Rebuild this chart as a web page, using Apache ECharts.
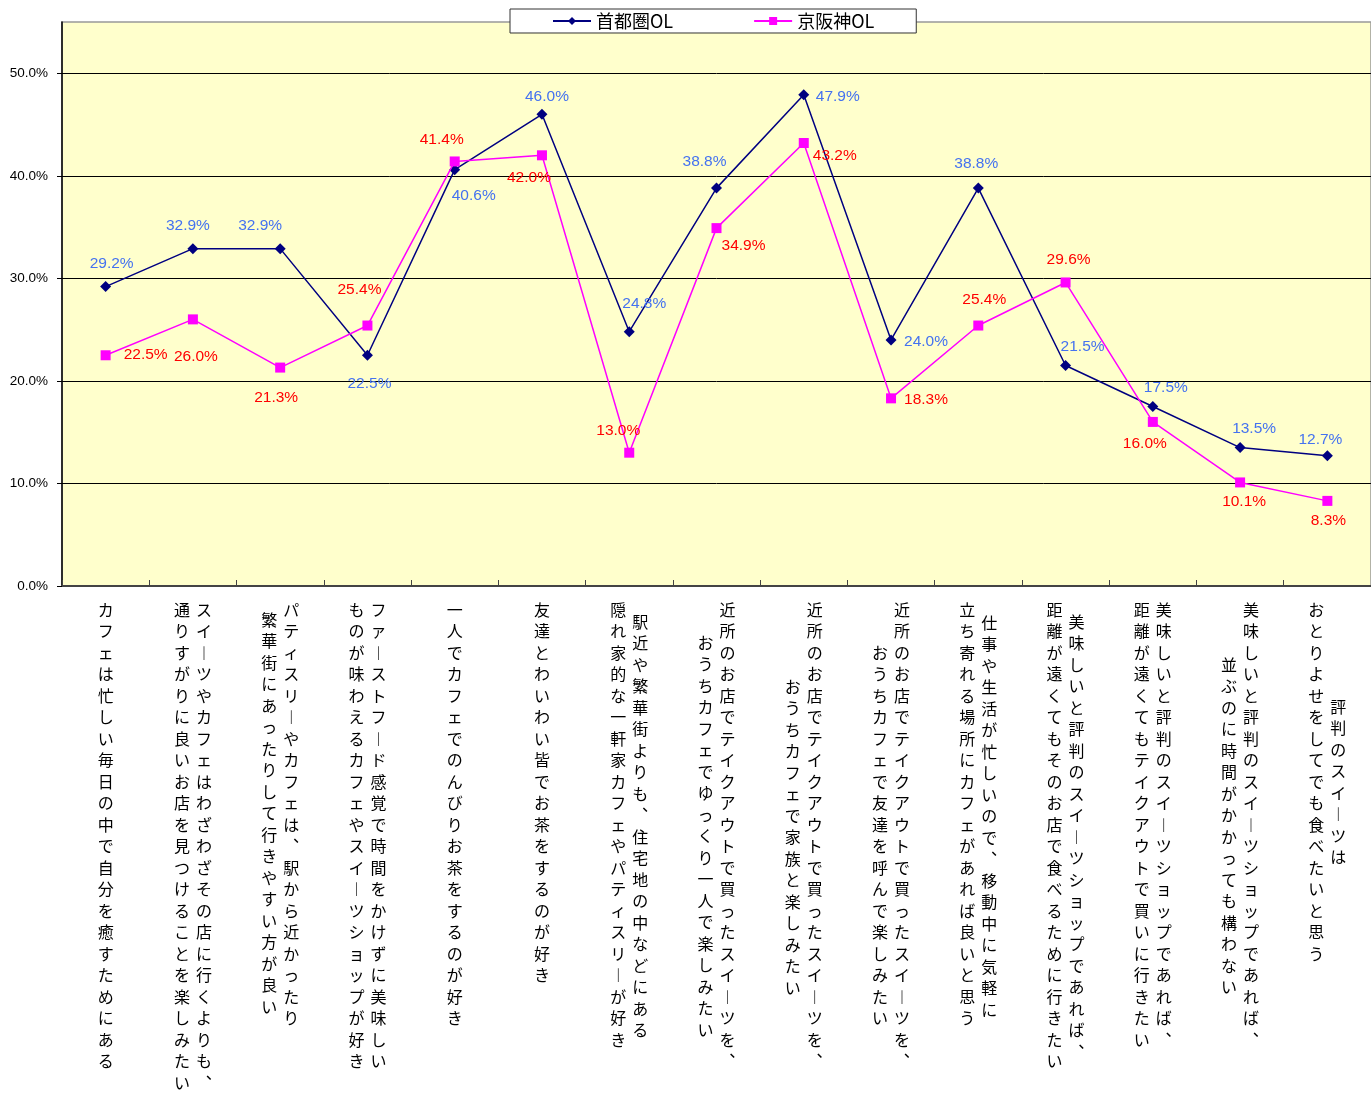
<!DOCTYPE html>
<html>
<head>
<meta charset="utf-8">
<script src="https://cdn.jsdelivr.net/npm/echarts@6/dist/echarts.min.js"></script>
<style>
html,body{margin:0;padding:0;background:#fff;}
#chart{width:1371px;height:1096px;}
</style>
</head>
<body>
<div id="chart"></div>
<script>
// ---- data ----
const seriesNames = ['首都圏OL', '京阪神OL'];
// right column (first line) of each vertical category label
const categoryCol1 = [
  'カフェは忙しい毎日の中で自分を癒すためにある',
  'スイーツやカフェはわざわざその店に行くよりも、',
  'パティスリーやカフェは、駅から近かったり',
  'ファーストフード感覚で時間をかけずに美味しい',
  '一人でカフェでのんびりお茶をするのが好き',
  '友達とわいわい皆でお茶をするのが好き',
  '駅近や繁華街よりも、住宅地の中などにある',
  '近所のお店でテイクアウトで買ったスイーツを、',
  '近所のお店でテイクアウトで買ったスイーツを、',
  '近所のお店でテイクアウトで買ったスイーツを、',
  '仕事や生活が忙しいので、移動中に気軽に',
  '美味しいと評判のスイーツショップであれば、',
  '美味しいと評判のスイーツショップであれば、',
  '美味しいと評判のスイーツショップであれば、',
  '評判のスイーツは'
];
// left column (second line) of each vertical category label
const categoryCol2 = [
  '',
  '通りすがりに良いお店を見つけることを楽しみたい',
  '繁華街にあったりして行きやすい方が良い',
  'ものが味わえるカフェやスイーツショップが好き',
  '',
  '',
  '隠れ家的な一軒家カフェやパティスリーが好き',
  'おうちカフェでゆっくり一人で楽しみたい',
  'おうちカフェで家族と楽しみたい',
  'おうちカフェで友達を呼んで楽しみたい',
  '立ち寄れる場所にカフェがあれば良いと思う',
  '距離が遠くてもそのお店で食べるために行きたい',
  '距離が遠くてもテイクアウトで買いに行きたい',
  '並ぶのに時間がかかっても構わない',
  'おとりよせをしてでも食べたいと思う'
];
const seriesShuto  = [29.2, 32.9, 32.9, 22.5, 40.6, 46.0, 24.8, 38.8, 47.9, 24.0, 38.8, 21.5, 17.5, 13.5, 12.7];
const seriesKeihan = [22.5, 26.0, 21.3, 25.4, 41.4, 42.0, 13.0, 34.9, 43.2, 18.3, 25.4, 29.6, 16.0, 10.1, 8.3];

// ---- layout / style (not data) ----
const col1Top = [0,0,0,0,0,0,12,0,0,0,13,12,0,0,97];
const col2Top = [0,0,10,0,0,0,0,33,77,43,0,0,0,55,0];
const colShift = 22;
const shutoLabelOffset = [[6,-23],[-5,-23],[-20,-23],[2,28],[19,26],[5,-18],[15,-28],[-12,-26],[34,2],[35,2],[-2,-24],[17,-19],[13,-19],[14,-19],[-7,-16]];
const keihanLabelOffset = [[40,-1],[3,37],[-4,30],[-8,-36],[-13,-22],[-13,22],[-11,-22],[27,18],[31,13],[35,1],[6,-26],[3,-23],[-8,22],[4,19],[1,20]];

function toVertical(s) {
  return s.split('').map(function (c) {
    if (c === 'ー') return '︱';
    if (c === '、') return '︑';
    return c;
  }).join('\n');
}

const axis1Data = categoryCol1.map(function (t, i) {
  const two = categoryCol2[i] !== '';
  return { value: t, textStyle: { padding: [col1Top[i], 0, 0, two ? colShift : 0] } };
});
const axis2Data = categoryCol2.map(function (t, i) {
  return { value: t === '' ? ' '.repeat(i + 1) : t, textStyle: { padding: [col2Top[i], colShift, 0, 0] } };
});

function buildData(values, offsets) {
  return values.map(function (v, i) {
    return { value: v, label: { offset: offsets[i] } };
  });
}

const labelFont = {
  fontFamily: "'Noto Sans CJK JP', sans-serif",
  fontSize: 16,
  lineHeight: 21.5,
  color: '#000',
  align: 'center',
  verticalAlign: 'top',
  margin: 13,
  interval: 0,
  formatter: function (v) { return toVertical(v.trim()); }
};

const chart = echarts.init(document.getElementById('chart'), null, { renderer: 'canvas' });
chart.setOption({
  animation: false,
  backgroundColor: '#fff',
  legend: {
    left: 510,
    top: 9,
    padding: [3, 42, 3, 42],
    itemGap: 80,
    itemWidth: 38,
    itemHeight: 10,
    backgroundColor: '#fff',
    borderColor: '#333',
    borderWidth: 1,
    textStyle: { fontFamily: "'Noto Sans CJK JP', sans-serif", fontSize: 18, color: '#000' },
    data: seriesNames
  },
  grid: {
    left: 62, right: 0, top: 22, bottom: 510,
    show: true,
    backgroundColor: '#FFFFCC',
    borderColor: '#999',
    borderWidth: 1.5,
    outerBoundsMode: 'none',
    containLabel: false
  },
  xAxis: [
    {
      type: 'category',
      position: 'bottom',
      boundaryGap: true,
      data: axis1Data,
      axisLine: { show: true, lineStyle: { color: '#444', width: 2 } },
      axisTick: { show: true, inside: true, length: 6, interval: 0, lineStyle: { color: '#444', width: 1 } },
      axisLabel: labelFont,
      splitLine: { show: false }
    },
    {
      type: 'category',
      position: 'bottom',
      offset: 0,
      boundaryGap: true,
      data: axis2Data,
      axisLine: { show: false },
      axisTick: { show: false },
      axisLabel: labelFont,
      splitLine: { show: false }
    }
  ],
  yAxis: {
    type: 'value',
    min: 0,
    max: 55,
    interval: 10,
    axisLine: { show: true, lineStyle: { color: '#000', width: 1.5 } },
    axisTick: { show: true, length: 5, lineStyle: { color: '#000' } },
    axisLabel: {
      margin: 14,
      fontFamily: "'Liberation Sans', Arial, sans-serif",
      fontSize: 13.5,
      color: '#000',
      showMaxLabel: false,
      formatter: function (v) { return v > 50 ? '' : v.toFixed(1) + '%'; }
    },
    splitLine: { show: true, showMaxLine: false, showMinLine: false, lineStyle: { color: '#000', width: 1 } }
  },
  series: [
    {
      name: seriesNames[0],
      type: 'line',
      xAxisIndex: 0,
      data: buildData(seriesShuto, shutoLabelOffset),
      symbol: 'diamond',
      symbolSize: 11,
      color: '#000080',
      lineStyle: { color: '#000080', width: 1.5 },
      itemStyle: { color: '#000080' },
      label: {
        show: true,
        position: 'inside',
        align: 'center',
        verticalAlign: 'middle',
        color: '#4472F0',
        fontFamily: "'Liberation Sans', Arial, sans-serif",
        fontSize: 15.5,
        formatter: function (p) { return p.value.toFixed(1) + '%'; }
      },
      z: 2
    },
    {
      name: seriesNames[1],
      type: 'line',
      xAxisIndex: 0,
      data: buildData(seriesKeihan, keihanLabelOffset),
      symbol: 'rect',
      symbolSize: 10,
      color: '#FF00FF',
      lineStyle: { color: '#FF00FF', width: 1.5 },
      itemStyle: { color: '#FF00FF' },
      label: {
        show: true,
        position: 'inside',
        align: 'center',
        verticalAlign: 'middle',
        color: '#FF0000',
        fontFamily: "'Liberation Sans', Arial, sans-serif",
        fontSize: 15.5,
        formatter: function (p) { return p.value.toFixed(1) + '%'; }
      },
      z: 3
    }
  ]
});
</script>
</body>
</html>
